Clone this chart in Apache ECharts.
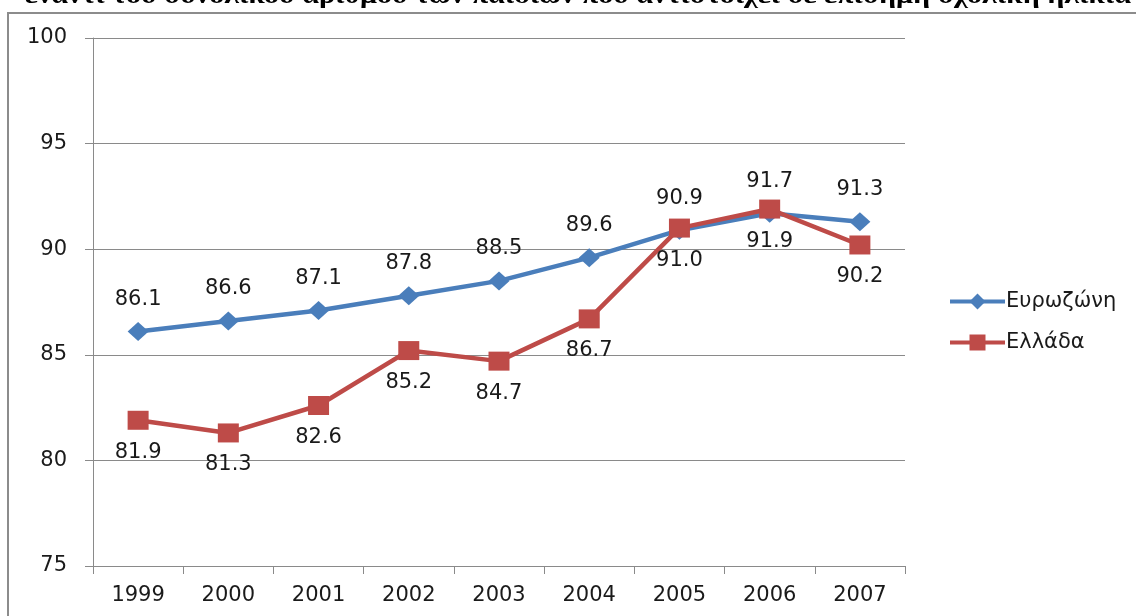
<!DOCTYPE html>
<html>
<head>
<meta charset="utf-8">
<script src="https://cdn.jsdelivr.net/npm/echarts@6/dist/echarts.min.js"></script>
<style>
html, body { margin: 0; padding: 0; background: #fff; }
#chart { width: 1136px; height: 616px; }
</style>
</head>
<body>
<div id="chart"></div>
<script>
// Years on the horizontal axis
const years = ['1999', '2000', '2001', '2002', '2003', '2004', '2005', '2006', '2007'];
// Eurozone and Greece percentages
const eurozone = [86.1, 86.6, 87.1, 87.8, 88.5, 89.6, 90.9, 91.7, 91.3];
const greece = [81.9, 81.3, 82.6, 85.2, 84.7, 86.7, 91.0, 91.9, 90.2];
const seriesNames = ['Ευρωζώνη', 'Ελλάδα'];
const titleText = 'έναντι του συνολικού αριθμού των παιδιών που αντιστοιχεί σε επίσημη σχολική ηλικία';

const FONT = '"DejaVu Sans", sans-serif';
const BLUE = '#4a7ebb';
const RED = '#be4b48';
const GRID_GRAY = '#8a8a8a';
const TEXT = '#1a1a1a';

const chart = echarts.init(document.getElementById('chart'), null, { renderer: 'canvas' });

chart.setOption({
  animation: false,
  backgroundColor: '#ffffff',
  graphic: [
    {
      type: 'rect',
      shape: { x: 8, y: 13, width: 1300, height: 700 },
      style: { fill: 'none', stroke: '#8c8c8c', lineWidth: 2 },
      silent: true
    },
    {
      type: 'text',
      x: 578,
      y: 9,
      scaleX: 1.2,
      style: {
        text: titleText,
        font: 'bold 25px "Liberation Serif", serif',
        fill: '#000',
        align: 'center',
        verticalAlign: 'bottom'
      },
      silent: true
    }
  ],
  grid: { left: 93, right: 231, top: 38, bottom: 50 },
  legend: {
    orient: 'vertical',
    left: 943,
    top: 286,
    itemWidth: 55,
    itemHeight: 20,
    itemGap: 20,
    lineStyle: { width: 4 },
    textStyle: { fontFamily: FONT, fontSize: 21, color: TEXT, padding: [0, 0, 0, -4] },
    data: seriesNames
  },
  xAxis: {
    type: 'category',
    data: years,
    boundaryGap: true,
    axisLine: { show: true, lineStyle: { color: GRID_GRAY, width: 1 } },
    axisTick: { show: true, length: 8, lineStyle: { color: GRID_GRAY } },
    axisLabel: { fontFamily: FONT, fontSize: 21, color: TEXT, margin: 19 },
    splitLine: { show: false }
  },
  yAxis: {
    type: 'value',
    min: 75,
    max: 100,
    interval: 5,
    axisLine: { show: true, lineStyle: { color: GRID_GRAY, width: 1 } },
    axisTick: { show: true, length: 8, lineStyle: { color: GRID_GRAY } },
    axisLabel: { fontFamily: FONT, fontSize: 21, color: TEXT, margin: 26 },
    splitLine: { show: true, lineStyle: { color: GRID_GRAY, width: 1 } }
  },
  series: [
    {
      name: seriesNames[0],
      type: 'line',
      data: eurozone,
      symbol: 'diamond',
      symbolSize: [21, 19],
      lineStyle: { color: BLUE, width: 4.5 },
      itemStyle: { color: BLUE },
      label: {
        show: true,
        position: 'top',
        distance: 12,
        fontFamily: FONT,
        fontSize: 21,
        color: TEXT,
        formatter: p => p.value.toFixed(1)
      },
      z: 2
    },
    {
      name: seriesNames[1],
      type: 'line',
      data: greece,
      symbol: 'rect',
      symbolSize: [21, 19],
      lineStyle: { color: RED, width: 4.5 },
      itemStyle: { color: RED },
      label: {
        show: true,
        position: 'bottom',
        distance: 12,
        fontFamily: FONT,
        fontSize: 21,
        color: TEXT,
        formatter: p => p.value.toFixed(1)
      },
      z: 3
    }
  ]
});
</script>
</body>
</html>
